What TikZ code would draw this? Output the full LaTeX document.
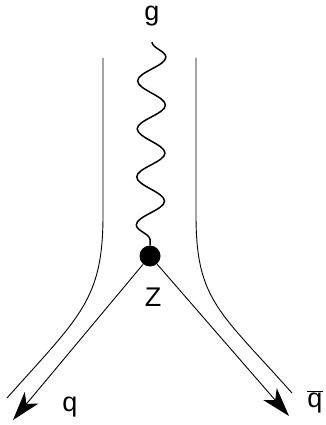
\documentclass[tikz,border=0pt]{standalone}
\usepackage{fontspec}
\setmainfont{Liberation Sans}
\usepackage{tikz}
\usetikzlibrary{arrows.meta,decorations.pathmorphing}
\tikzset{
  lbl/.style  ={font=\fontsize{27}{31}\selectfont, inner sep=0pt},
  vtx/.style  ={circle, fill=black, draw=none, minimum size=21pt, inner sep=0pt},
  qline/.style={line width=0.9pt},
  arr/.style  ={-{Stealth[length=29pt, width=18pt, inset=8pt]}, line width=0.9pt},
  gluon/.style={line width=1.5pt, decorate,
                decoration={snake, amplitude=14pt, segment length=48pt}},
}

\begin{document}
\begin{tikzpicture}[x=1pt, y=-1pt]
  \useasboundingbox (0,0) rectangle (326,425);
  \node[vtx] (vz) at (150,256) {};
  \coordinate (gtop) at (152,42);
  \coordinate (ltop) at (103,58);
  \coordinate (lend) at (7,398);
  \coordinate (rtop) at (196,58);
  \coordinate (rend) at (292,393);
  \coordinate (qend) at (13,420);
  \coordinate (qbend) at (289,416);
  % colour lines
  \draw[qline] (ltop) -- ++(0,157) .. controls +(0,85) and +(73,-82) .. (lend);
  \draw[qline] (rtop) -- ++(0,157) .. controls +(0,85) and +(-73,-82) .. (rend);
  % gluon and quarks
  \draw[gluon] (gtop) -- (vz);
  \draw[arr] (vz) -- (qend);
  \draw[arr] (vz) -- (qbend);
  \node[lbl] (gl) at (152,16) {g};
  \node[lbl] (zl) at (153,297) {Z};
  \node[lbl] (ql) at (70,407) {q};
  \node[lbl] (qbl) at (315,402) {$\overline{\mbox{q}}$};
\end{tikzpicture}
\end{document}
